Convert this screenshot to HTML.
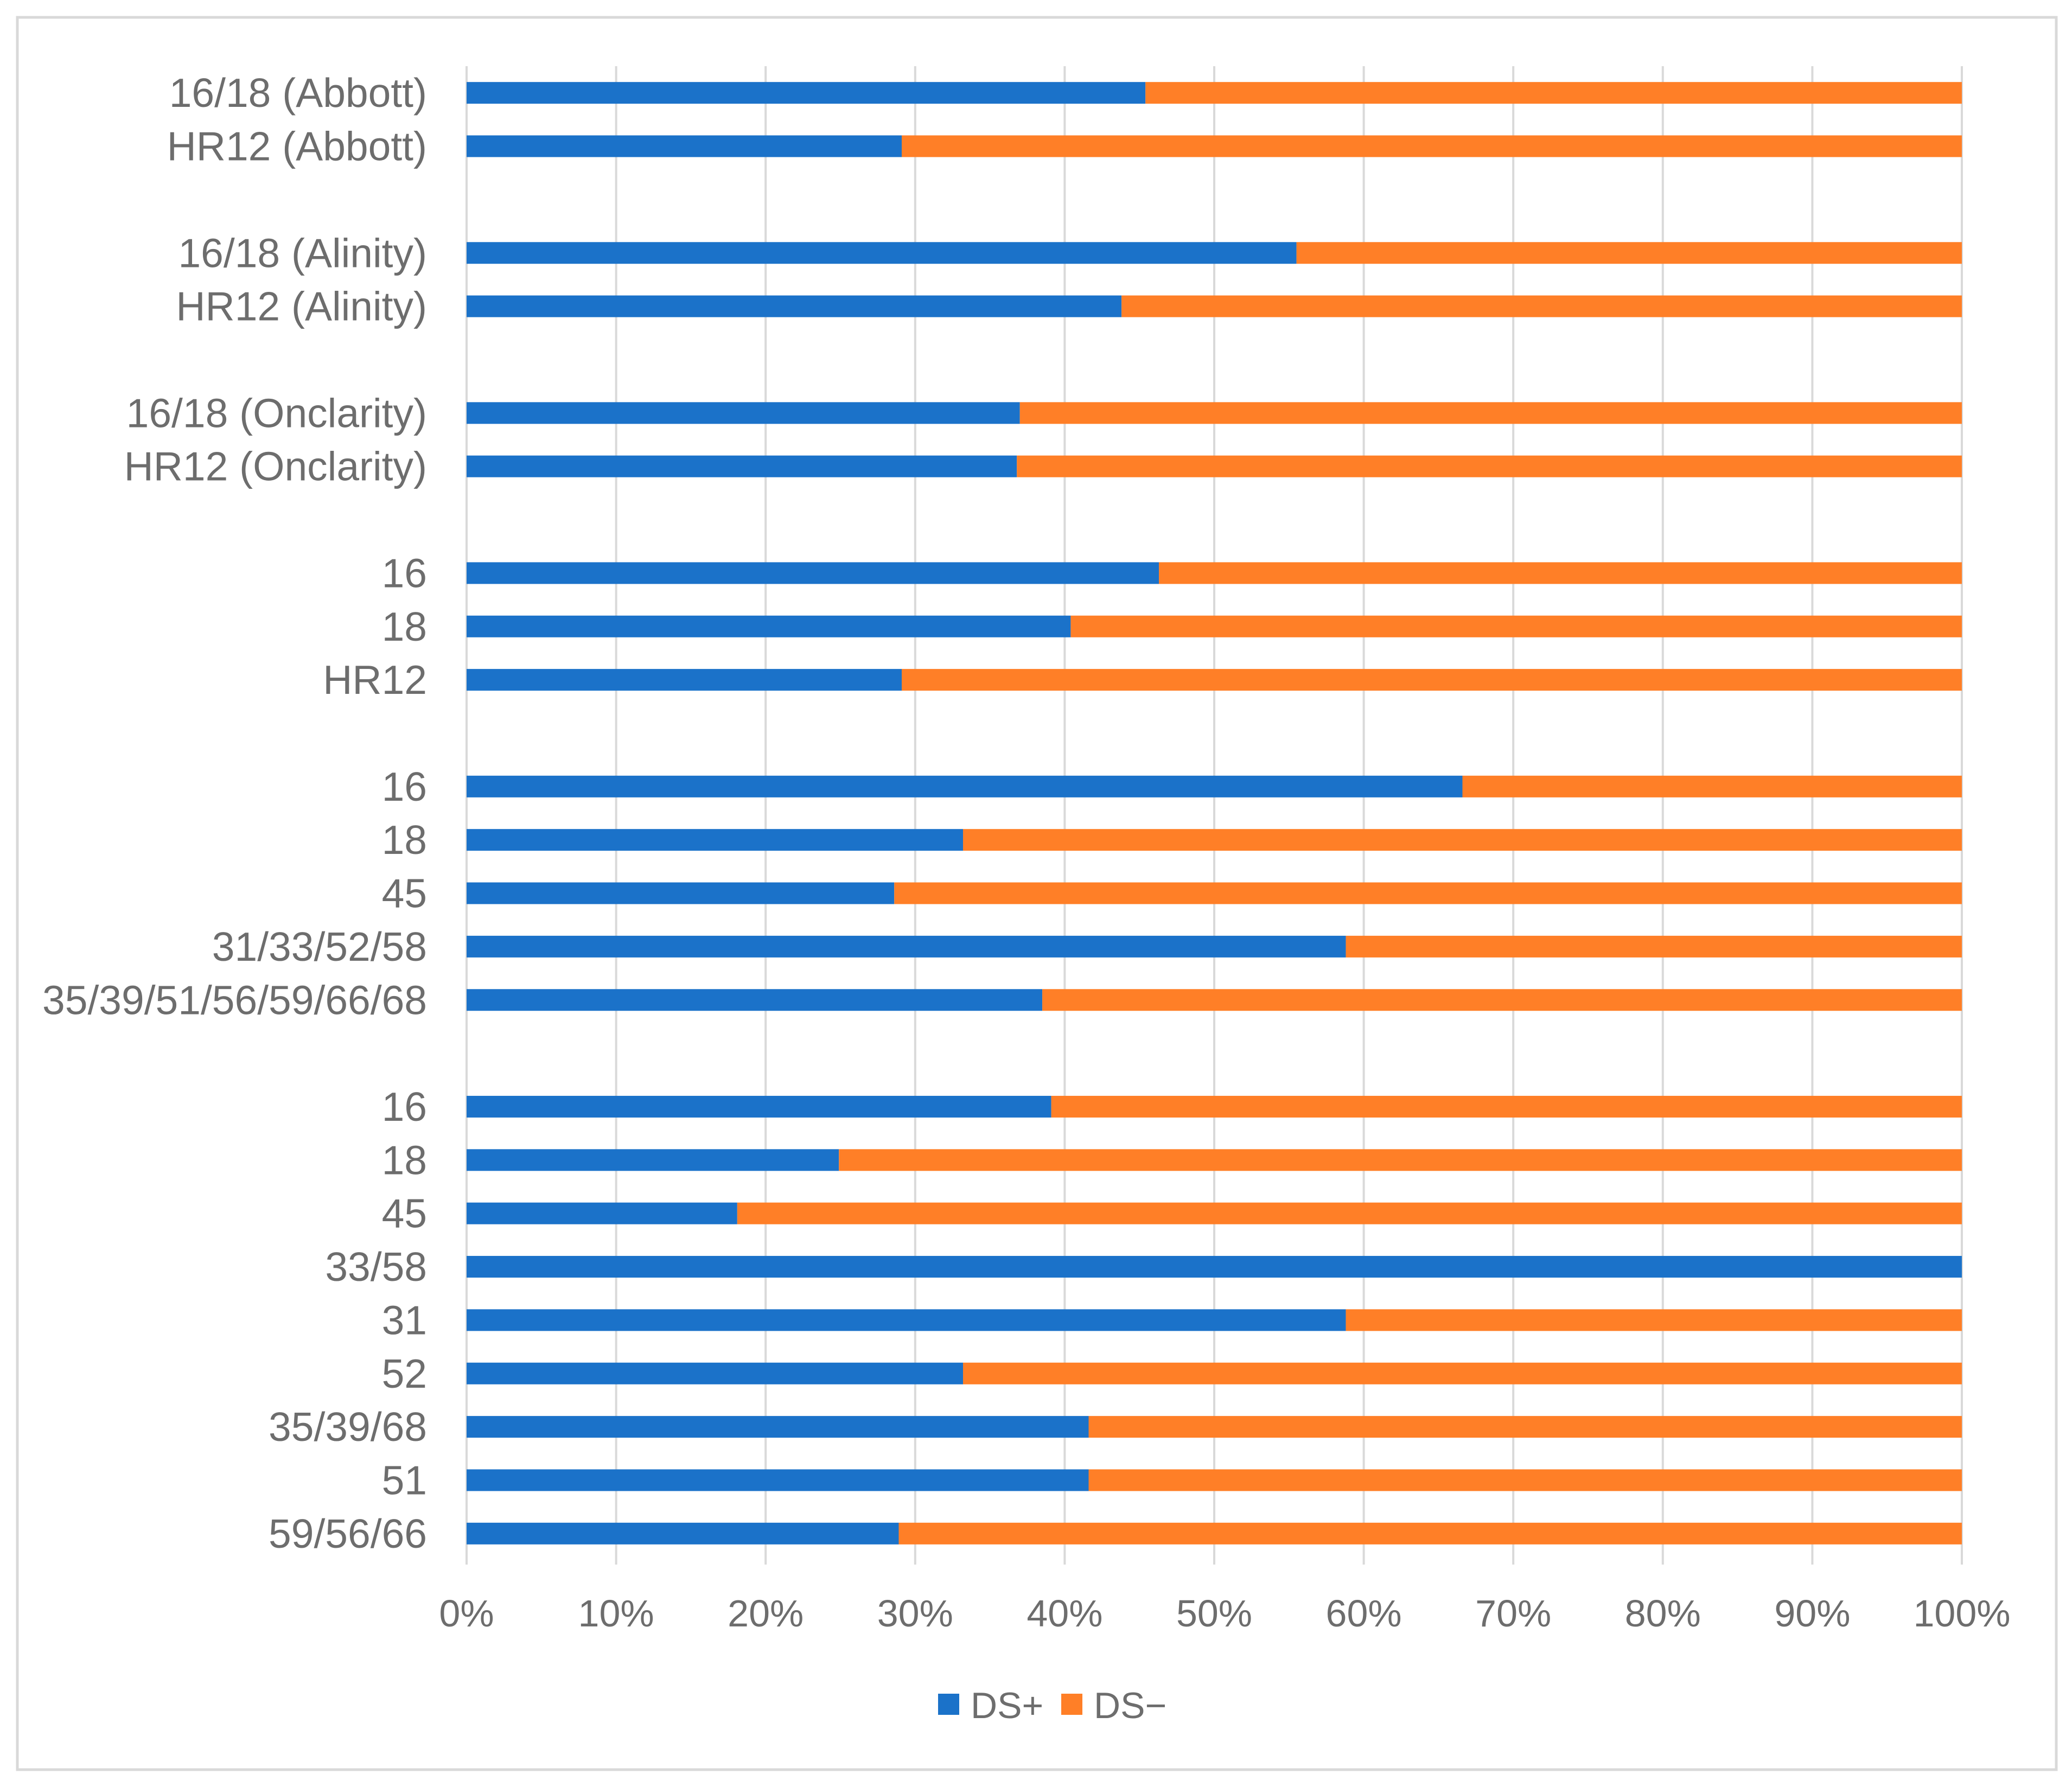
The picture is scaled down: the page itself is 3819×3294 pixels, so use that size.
<!DOCTYPE html>
<html><head><meta charset="utf-8"><style>
html,body{margin:0;padding:0;background:#fff;}
svg{display:block;font-family:"Liberation Sans",sans-serif;}
</style></head><body>
<svg id="chart" width="3819" height="3294" viewBox="0 0 3819 3294">
<rect x="0" y="0" width="3819" height="3294" fill="#fff"/>
<rect x="32" y="32" width="3758" height="3230" fill="#fff" stroke="#d9d9d9" stroke-width="5"/>
<g id="grid"></g>
<g id="bars"></g>
<g id="ylabels"></g>
<g id="xlabels"></g>
<g>
<rect x="1729" y="3122" width="39" height="39" fill="#1B72C9"/>
<text x="1789" y="3167" font-size="68" fill="#6d6d6d">DS+</text>
<rect x="1956" y="3122" width="39" height="39" fill="#FF7F27"/>
<text x="2016" y="3167" font-size="68" fill="#6d6d6d">DS−</text>
</g>
</svg>
<script>
const categories = ["16/18 (Abbott)","HR12 (Abbott)","16/18 (Alinity)","HR12 (Alinity)","16/18 (Onclarity)","HR12 (Onclarity)","16","18","HR12","16","18","45","31/33/52/58","35/39/51/56/59/66/68","16","18","45","33/58","31","52","35/39/68","51","59/56/66"];
const slots = [0,1,3,4,6,7,9,10,11,13,14,15,16,17,19,20,21,22,23,24,25,26,27];
const dsPlus = [45.4,29.1,55.5,43.8,37.0,36.8,46.3,40.4,29.1,66.6,33.2,28.6,58.8,38.5,39.1,24.9,18.1,100,58.8,33.2,41.6,41.6,28.9];
const ticks = [0,10,20,30,40,50,60,70,80,90,100];
const tickLabels = ["0%","10%","20%","30%","40%","50%","60%","70%","80%","90%","100%"];

const NS = "http://www.w3.org/2000/svg";
const X0 = 860, X1 = 3616, Y0 = 122, Y1 = 2876, NSLOT = 28;
const slotH = (Y1 - Y0) / NSLOT, barH = 40;
const x = v => X0 + (X1 - X0) * v / 100;
const y = s => Y0 + slotH * (s + 0.5);
function mk(tag, attrs, parent){const e=document.createElementNS(NS,tag);for(const k in attrs)e.setAttribute(k,attrs[k]);parent.appendChild(e);return e;}
const grid=document.getElementById('grid'),bars=document.getElementById('bars'),yl=document.getElementById('ylabels'),xl=document.getElementById('xlabels');
ticks.forEach((t,i)=>{
  const l=mk('line',{x1:x(t),x2:x(t),y1:Y0,y2:Y1+8,stroke:'#d9d9d9','stroke-width':4},grid);
  
  
  const tx=mk('text',{x:x(t),y:2998,'font-size':70,fill:'#6d6d6d','text-anchor':'middle'},xl);
  tx.textContent=tickLabels[i];
  
  
});
categories.forEach((c,i)=>{
  const cy=y(slots[i]);
  const b=mk('rect',{x:x(0),y:cy-barH/2,width:x(dsPlus[i])-x(0),height:barH,fill:'#1B72C9'},bars);
  
  
  const o=mk('rect',{x:x(dsPlus[i]),y:cy-barH/2,width:x(100)-x(dsPlus[i]),height:barH,fill:'#FF7F27'},bars);
  
  
  const t=mk('text',{x:787,y:cy+26,'font-size':75,fill:'#6d6d6d','text-anchor':'end'},yl);
  t.textContent=c;
  
  
});
</script>
</body></html>
